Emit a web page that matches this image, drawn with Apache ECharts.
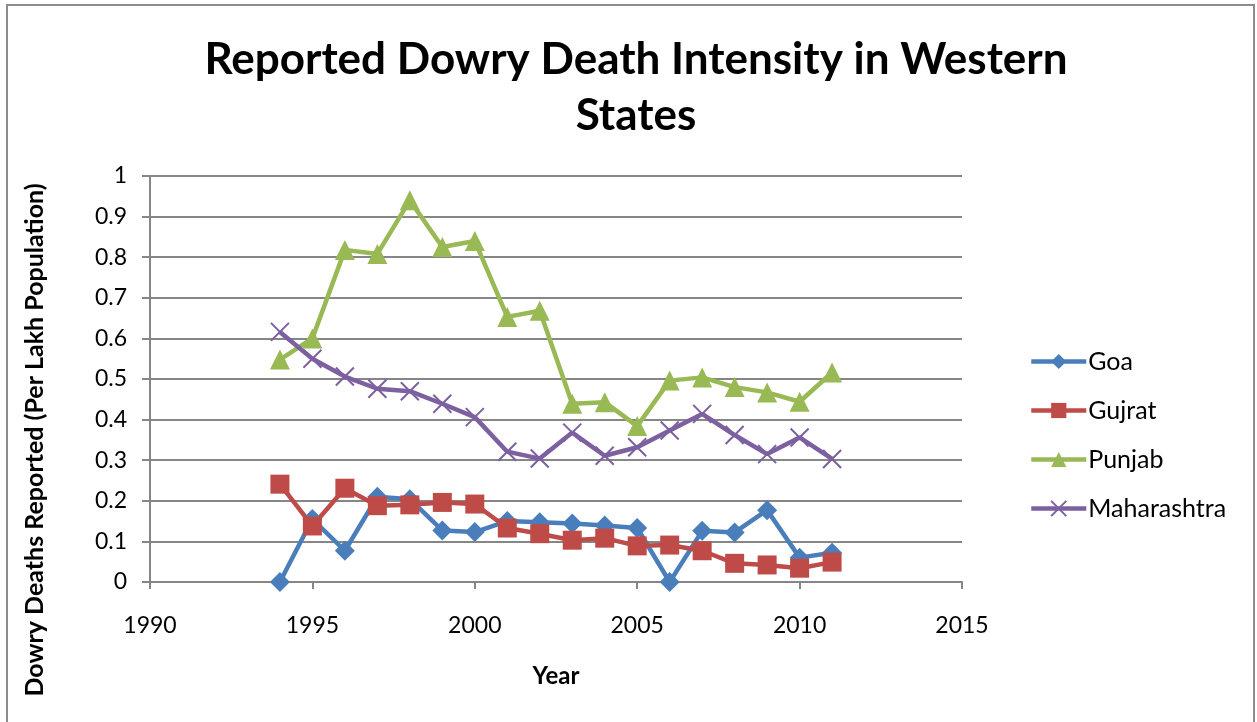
<!DOCTYPE html>
<html>
<head>
<meta charset="utf-8">
<script src="https://cdn.jsdelivr.net/npm/echarts@6/dist/echarts.min.js"></script>
<style>
  html, body { margin: 0; padding: 0; background: #ffffff; }
  #chart { width: 1257px; height: 722px; }
</style>
</head>
<body>
<div id="chart"></div>
<script>
// Reported dowry deaths per lakh population, 1994-2011
const years = [1994, 1995, 1996, 1997, 1998, 1999, 2000, 2001, 2002, 2003,
               2004, 2005, 2006, 2007, 2008, 2009, 2010, 2011];
const goa = [0, 0.155, 0.077, 0.21, 0.204, 0.127, 0.123, 0.15, 0.147, 0.144,
             0.139, 0.133, 0, 0.126, 0.122, 0.177, 0.06, 0.072];
const gujrat = [0.241, 0.138, 0.231, 0.188, 0.19, 0.196, 0.192, 0.133, 0.119, 0.103,
                0.108, 0.089, 0.091, 0.077, 0.046, 0.042, 0.034, 0.049];
const punjab = [0.548, 0.6, 0.818, 0.808, 0.94, 0.825, 0.84, 0.653, 0.668, 0.439,
                0.443, 0.384, 0.496, 0.504, 0.48, 0.467, 0.444, 0.516];
const maharashtra = [0.616, 0.55, 0.506, 0.476, 0.47, 0.439, 0.406, 0.321, 0.304, 0.368,
                     0.311, 0.332, 0.373, 0.414, 0.362, 0.315, 0.356, 0.303];
const seriesNames = ['Goa', 'Gujrat', 'Punjab', 'Maharashtra'];
const xTicks = { min: 1990, max: 2015, step: 5 };
const yTicks = { min: 0, max: 1, step: 0.1 };

const FONT = 'Lato, "Open Sans", sans-serif';
const pair = arr => years.map((y, i) => [y, arr[i]]);

const colors = ['#4A7EBB', '#BE4B48', '#98B954', '#7D60A0'];
const crossPath = 'path://M0,0L10,10M10,0L0,10';

function lineSeries(name, data, color, symbol, size, extraItem) {
  return {
    name: name,
    type: 'line',
    data: pair(data),
    symbol: symbol,
    symbolSize: size,
    showAllSymbol: true,
    lineStyle: { color: color, width: 4.5 },
    itemStyle: Object.assign({ color: color }, extraItem || {}),
    emphasis: { disabled: true },
    z: 3
  };
}

const chart = echarts.init(document.getElementById('chart'), null, { renderer: 'canvas' });

chart.setOption({
  animation: false,
  backgroundColor: '#ffffff',
  title: {
    text: 'Reported Dowry Death Intensity in Western\nStates',
    left: 631,
    textAlign: 'center',
    top: 27,
    textStyle: {
      fontFamily: FONT,
      fontWeight: 'bold',
      fontSize: 44,
      lineHeight: 56,
      color: '#000000'
    }
  },
  legend: {
    orient: 'vertical',
    left: 1029,
    top: 349,
    padding: 0,
    itemWidth: 55,
    itemHeight: 19,
    itemGap: 24,
    data: seriesNames,
    lineStyle: { width: 4.5 },
    textStyle: { fontFamily: FONT, fontSize: 25, color: '#000000', padding: [0, 0, 0, -3] }
  },
  grid: { left: 150, right: 295, top: 176, bottom: 140, containLabel: false },
  xAxis: {
    type: 'value',
    min: xTicks.min,
    max: xTicks.max,
    interval: xTicks.step,
    name: 'Year',
    nameLocation: 'middle',
    nameGap: 82,
    nameTextStyle: { fontFamily: FONT, fontWeight: 'bold', fontSize: 24, color: '#000000' },
    axisLine: { show: true, lineStyle: { color: '#868686', width: 2 } },
    axisTick: { show: true, length: 7, lineStyle: { color: '#868686', width: 2 } },
    axisLabel: {
      fontFamily: FONT, fontSize: 23, color: '#000000', margin: 32,
      formatter: v => String(v)
    },
    splitLine: { show: false }
  },
  yAxis: {
    type: 'value',
    min: yTicks.min,
    max: yTicks.max,
    interval: yTicks.step,
    axisLine: { show: true, lineStyle: { color: '#868686', width: 2 } },
    axisTick: { show: true, length: 8, lineStyle: { color: '#868686', width: 2 } },
    axisLabel: {
      fontFamily: FONT, fontSize: 23, color: '#000000', margin: 23,
      formatter: v => String(Math.round(v * 10) / 10)
    },
    splitLine: { show: true, lineStyle: { color: '#868686', width: 2 } }
  },
  graphic: [
    {
      type: 'rect',
      shape: { x: 7, y: 5, width: 1247, height: 730 },
      style: { fill: 'none', stroke: '#8c8c8c', lineWidth: 2 },
      silent: true
    },
    {
      type: 'text',
      x: 35,
      y: 440,
      rotation: Math.PI / 2,
      style: {
        text: 'Dowry Deaths Reported (Per Lakh Population)',
        fontFamily: FONT,
        fontWeight: 'bold',
        fontSize: 25,
        fill: '#000000',
        align: 'center',
        verticalAlign: 'middle'
      },
      silent: true
    }
  ],
  series: [
    lineSeries('Goa', goa, colors[0], 'diamond', 20),
    lineSeries('Gujrat', gujrat, colors[1], 'rect', 19),
    lineSeries('Punjab', punjab, colors[2], 'triangle', 20),
    lineSeries('Maharashtra', maharashtra, colors[3], crossPath, 18,
      { borderColor: colors[3], borderWidth: 2 })
  ]
});
</script>
</body>
</html>
